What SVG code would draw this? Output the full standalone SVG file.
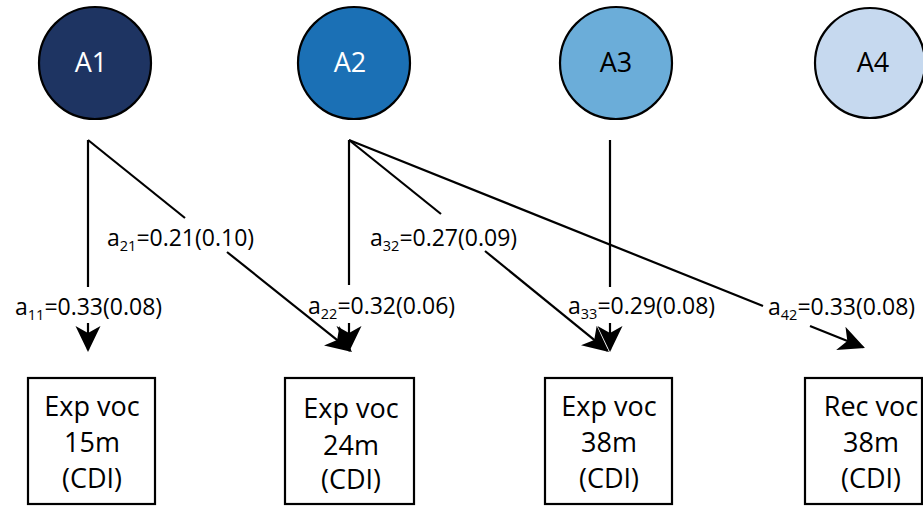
<svg xmlns="http://www.w3.org/2000/svg" width="923" height="506" viewBox="0 0 923 506">
<defs>
<style>
.circ{stroke:#000;stroke-width:2.2}
.ct{font-family:"Open Sans","Noto Sans",sans-serif;font-size:27px;text-anchor:middle}
.box{fill:#fff;stroke:#000;stroke-width:2.2}
.bt{font-family:"Open Sans","Noto Sans",sans-serif;font-size:27px;text-anchor:middle;fill:#000}
.lbl{font-family:"Open Sans","Noto Sans",sans-serif;font-size:23px;fill:#000}
.sub{font-size:14.5px}
.ln{stroke:#000;stroke-width:2.2;fill:none}
.arr{stroke:#000;stroke-width:2.2;fill:none;marker-end:url(#ah)}
</style>
<marker id="ah" markerUnits="userSpaceOnUse" markerWidth="26" markerHeight="26" viewBox="0 0 26 26" refX="24" refY="13" orient="auto">
<path d="M0,0.5 L26,13 L0,25.5 L7,13 Z" fill="#000"/>
</marker>
</defs>
<rect width="923" height="506" fill="#fff"/>
<g id="connectors">
<line class="ln" x1="88" y1="140" x2="88" y2="287"/>
<line class="arr" x1="88" y1="323" x2="88" y2="350"/>
<line class="ln" x1="88" y1="140" x2="185" y2="218"/>
<line class="arr" x1="227" y1="252" x2="350.4" y2="350.7"/>
<line class="ln" x1="349" y1="140" x2="349" y2="285"/>
<line class="arr" x1="349" y1="323" x2="349" y2="350"/>
<line class="ln" x1="349" y1="140" x2="441" y2="214"/>
<line class="arr" x1="485" y1="251" x2="607.4" y2="350.7"/>
<line class="ln" x1="349" y1="140" x2="763" y2="306"/>
<line class="arr" x1="810" y1="326" x2="863.1" y2="347.3"/>
<line class="ln" x1="610" y1="140" x2="610" y2="287"/>
<line class="arr" x1="610" y1="323" x2="610" y2="350"/>
</g>
<g id="labels">
<text class="lbl" x="15" y="315">a<tspan class="sub" dy="5">11</tspan><tspan dy="-5">=0.33(0.08)</tspan></text>
<text class="lbl" x="107" y="246">a<tspan class="sub" dy="5">21</tspan><tspan dy="-5">=0.21(0.10)</tspan></text>
<text class="lbl" x="308" y="314">a<tspan class="sub" dy="5">22</tspan><tspan dy="-5">=0.32(0.06)</tspan></text>
<text class="lbl" x="370" y="246">a<tspan class="sub" dy="5">32</tspan><tspan dy="-5">=0.27(0.09)</tspan></text>
<text class="lbl" x="568" y="314">a<tspan class="sub" dy="5">33</tspan><tspan dy="-5">=0.29(0.08)</tspan></text>
<text class="lbl" x="768" y="315">a<tspan class="sub" dy="5">42</tspan><tspan dy="-5">=0.33(0.08)</tspan></text>
</g>
<g id="A1">
<circle class="circ" cx="95" cy="63" r="56" fill="#1e3462"/>
<text class="ct" x="91" y="72" fill="#fff">A1</text>
</g>
<g id="A2">
<circle class="circ" cx="354" cy="63" r="56" fill="#1b70b5"/>
<text class="ct" x="350" y="72" fill="#fff">A2</text>
</g>
<g id="A3">
<circle class="circ" cx="616" cy="63" r="56" fill="#6badd9"/>
<text class="ct" x="616" y="72" fill="#000">A3</text>
</g>
<g id="A4">
<circle class="circ" cx="870" cy="63" r="55" fill="#c6d9ef"/>
<text class="ct" x="873" y="72" fill="#000">A4</text>
</g>
<g id="B1">
<rect class="box" x="28" y="378" width="127" height="126"/>
<text class="bt" x="92" y="416">Exp voc</text>
<text class="bt" x="92" y="452">15m</text>
<text class="bt" x="92" y="488">(CDI)</text>
</g>
<g id="B2">
<rect class="box" x="285" y="378" width="129" height="126"/>
<text class="bt" x="351" y="418">Exp voc</text>
<text class="bt" x="351" y="455">24m</text>
<text class="bt" x="351" y="489">(CDI)</text>
</g>
<g id="B3">
<rect class="box" x="545" y="378" width="127" height="126"/>
<text class="bt" x="609" y="416">Exp voc</text>
<text class="bt" x="609" y="452">38m</text>
<text class="bt" x="609" y="488">(CDI)</text>
</g>
<g id="B4">
<rect class="box" x="805" y="378" width="117" height="126"/>
<text class="bt" x="871" y="416">Rec voc</text>
<text class="bt" x="871" y="452">38m</text>
<text class="bt" x="871" y="488">(CDI)</text>
</g>
</svg>
